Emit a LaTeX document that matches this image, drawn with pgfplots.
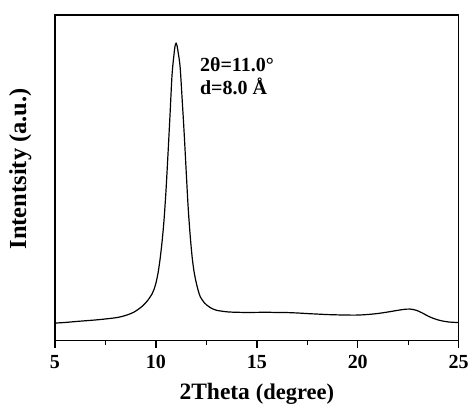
\documentclass[border=0pt]{standalone}
\usepackage{fontspec}
\setmainfont{Liberation Serif}
\usepackage{pgfplots}
\pgfplotsset{compat=1.18}

% XRD pattern, values (arbitrary intensity units)
\pgfplotstableread{
x      y
5.0    17.7
5.5    18.3
6.0    19.2
6.5    20.0
7.0    20.8
7.5    21.8
8.0    23.0
8.3    24.2
8.6    26.0
8.9    28.5
9.2    32.5
9.4    36.0
9.6    40.5
9.8    46.5
9.9    51.0
10.0   57.5
10.1   67.0
10.2   80.5
10.3   98.0
10.4   120.0
10.5   150.0
10.6   187.0
10.7   226.0
10.8   266.0
10.9   287.0
10.95  295.0
11.0   297.7
11.05  295.0
11.1   289.0
11.2   274.0
11.3   242.0
11.4   208.0
11.5   170.0
11.6   133.0
11.7   105.0
11.8   83.0
11.9   68.0
12.0   58.0
12.1   50.0
12.2   44.0
12.4   38.0
12.6   34.5
12.8   32.0
13.0   30.5
13.3   29.5
13.6   28.8
14.0   28.5
14.5   28.3
15.0   28.4
15.5   28.5
16.0   28.3
16.5   28.2
17.0   27.8
17.5   27.2
18.0   26.7
18.5   26.2
19.0   25.9
19.5   25.7
20.0   25.7
20.5   26.3
21.0   27.3
21.5   28.8
22.0   30.5
22.3   31.4
22.6   31.7
22.9   30.5
23.2   27.8
23.5   24.5
23.8   22.0
24.1   20.2
24.5   18.8
25.0   18.2
}\xrd

\begin{document}
\begin{tikzpicture}
\begin{axis}[
    scale only axis,
    width=404pt, height=326pt,
    xmin=5, xmax=25, ymin=0, ymax=326,
    xtick={5,10,15,20,25},
    minor x tick num=1,
    xtick pos=bottom,
    tick align=outside,
    ytick=\empty,
    major tick length=7pt,
    minor tick length=4pt,
    axis line style={line width=1.4pt},
    every tick/.style={black, line width=1.4pt},
    /pgf/number format/assume math mode=true,
    tick label style={font=\fontsize{20}{22}\selectfont\bfseries},
    xticklabel style={yshift=-4pt},
    xlabel={2Theta \fontsize{22.5}{26}\selectfont(degree)},
    xlabel style={font=\fontsize{23.5}{26}\selectfont\bfseries,
        at={(axis description cs:0.5,0)}, anchor=base, yshift=-59pt},
    ylabel={Intentsity (a.u.)},
    ylabel style={font=\fontsize{24.5}{27}\selectfont\bfseries,
        at={(axis description cs:-0.058,0.528)}, anchor=south, inner sep=0pt},
]
\addplot[black, line width=1.2pt, smooth] table[x=x, y=y] {\xrd};
\node[anchor=base west, inner sep=0pt, font=\fontsize{20}{22}\selectfont\bfseries]
    at (axis cs:12.18,269.3) {2θ=11.0°};
\node[anchor=base west, inner sep=0pt, font=\fontsize{20}{22}\selectfont\bfseries]
    at (axis cs:12.18,246) {d=8.0 Å};
\end{axis}
\path (current axis.south west) ++(-55pt,-65pt) rectangle ++(472pt,406pt);
\end{tikzpicture}
\end{document}
